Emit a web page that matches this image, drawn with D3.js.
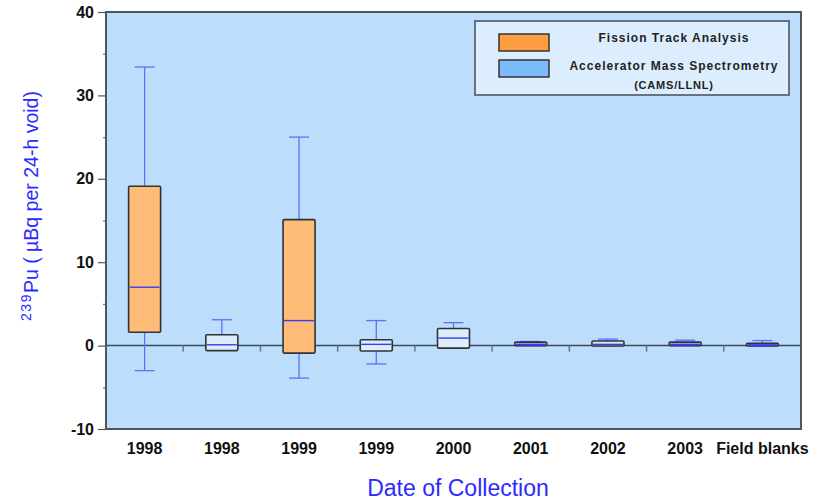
<!DOCTYPE html>
<html>
<head>
<meta charset="utf-8">
<script src="https://cdn.jsdelivr.net/npm/d3@7"></script>
<style>
  html, body { margin: 0; padding: 0; background: #ffffff; }
  svg { display: block; font-family: "Liberation Sans", Arial, sans-serif; }
</style>
</head>
<body>
<svg id="chart" width="819" height="502"></svg>
<script>
// Collection groups along the x axis
const categories = ["1998", "1998", "1999", "1999", "2000", "2001", "2002", "2003", "Field blanks"];
// Measurement method per group: FTA = fission track analysis, AMS = accelerator mass spectrometry
const methods = ["FTA", "AMS", "FTA", "AMS", "AMS", "AMS", "AMS", "AMS", "AMS"];
// Box-plot statistics, 239Pu in µBq per 24-h void (null = no whisker drawn)
const whiskerLow  = [-3.0, null, -3.9, -2.2, null, null, null, null, null];
const q1          = [1.6, -0.6, -0.9, -0.65, -0.3, 0.0, -0.05, 0.0, -0.05];
const median      = [7.0, 0.1, 3.0, 0.15, 0.9, 0.12, 0.15, 0.12, 0.05];
const q3          = [19.1, 1.3, 15.1, 0.7, 2.05, 0.42, 0.55, 0.42, 0.27];
const whiskerHigh = [33.4, 3.1, 25.0, 3.0, 2.75, 0.5, 0.78, 0.65, 0.6];
// Axis ticks
const yMajorTicks = [-10, 0, 10, 20, 30, 40];
const yMinorTicks = [-5, 5, 15, 25, 35];
// Legend entries
const legendLabels = [["Fission Track Analysis"], ["Accelerator Mass Spectrometry", "(CAMS/LLNL)"]];

const svg = d3.select("#chart");
const plot = { left: 106, right: 801, top: 12, bottom: 429 };

const x = d3.scaleBand()
  .domain(d3.range(categories.length))
  .range([plot.left, plot.right])
  .padding(0);
const y = d3.scaleLinear().domain([-10, 40]).range([plot.bottom, plot.top]);

const boxFill = { FTA: "#ffbb78", AMS: "#dcedfd" };
const swatchFill = { FTA: "#ff9d42", AMS: "#7dbcfb" };
const whiskerColor = "#5f6ff7";
const medianColor = "#3a3cf4";

// plot background
svg.append("rect")
  .attr("x", plot.left).attr("y", plot.top)
  .attr("width", plot.right - plot.left).attr("height", plot.bottom - plot.top)
  .attr("fill", "#bcdefc");

// y axis: major ticks with labels (plain hyphen for negatives)
const yAxis = svg.append("g")
  .attr("transform", `translate(${plot.left},0)`)
  .call(d3.axisLeft(y).tickValues(yMajorTicks).tickSize(8).tickPadding(4)
    .tickFormat(d => String(d)));
yAxis.select(".domain").remove();
yAxis.selectAll("line").attr("stroke", "#555").attr("stroke-width", 1.2);
yAxis.selectAll("text")
  .attr("font-size", 16).attr("font-weight", "bold").attr("fill", "#111")
  .attr("font-family", "Liberation Sans, Arial, sans-serif");

// y axis: minor ticks
const yMinor = svg.append("g")
  .attr("transform", `translate(${plot.left},0)`)
  .call(d3.axisLeft(y).tickValues(yMinorTicks).tickSize(3).tickFormat(""));
yMinor.select(".domain").remove();
yMinor.selectAll("line").attr("stroke", "#777").attr("stroke-width", 1.2);

// zero line with small ticks between groups
svg.append("line")
  .attr("x1", plot.left).attr("x2", plot.right)
  .attr("y1", y(0)).attr("y2", y(0))
  .attr("stroke", "#3f4a55").attr("stroke-width", 1.5);
svg.append("g").selectAll("line")
  .data(d3.range(1, categories.length))
  .join("line")
  .attr("x1", i => x(i)).attr("x2", i => x(i))
  .attr("y1", y(0)).attr("y2", y(0) + 6)
  .attr("stroke", "#6a7580").attr("stroke-width", 1.5);

// box plots
const boxW = 32, capW = 20;
const groups = svg.append("g").selectAll("g")
  .data(d3.range(categories.length))
  .join("g")
  .attr("transform", i => `translate(${x(i) + x.bandwidth() / 2},0)`);

groups.filter(i => whiskerHigh[i] !== null).each(function (i) {
  const g = d3.select(this);
  g.append("line").attr("x1", 0).attr("x2", 0)
    .attr("y1", y(q3[i])).attr("y2", y(whiskerHigh[i]))
    .attr("stroke", whiskerColor).attr("stroke-width", 1.3);
  g.append("line").attr("x1", -capW / 2).attr("x2", capW / 2)
    .attr("y1", y(whiskerHigh[i])).attr("y2", y(whiskerHigh[i]))
    .attr("stroke", whiskerColor).attr("stroke-width", 1.3);
});
groups.filter(i => whiskerLow[i] !== null).each(function (i) {
  const g = d3.select(this);
  g.append("line").attr("x1", 0).attr("x2", 0)
    .attr("y1", y(q1[i])).attr("y2", y(whiskerLow[i]))
    .attr("stroke", whiskerColor).attr("stroke-width", 1.3);
  g.append("line").attr("x1", -capW / 2).attr("x2", capW / 2)
    .attr("y1", y(whiskerLow[i])).attr("y2", y(whiskerLow[i]))
    .attr("stroke", whiskerColor).attr("stroke-width", 1.3);
});
groups.append("rect")
  .attr("x", -boxW / 2).attr("width", boxW)
  .attr("y", i => y(q3[i]))
  .attr("height", i => Math.max(y(q1[i]) - y(q3[i]), 2))
  .attr("fill", i => boxFill[methods[i]])
  .attr("stroke", "#333").attr("stroke-width", 1.6)
  .attr("rx", 1);
groups.append("line")
  .attr("x1", -boxW / 2 + 1).attr("x2", boxW / 2 - 1)
  .attr("y1", i => y(median[i])).attr("y2", i => y(median[i]))
  .attr("stroke", medianColor).attr("stroke-width", i => (q3[i] - q1[i] < 0.6 ? 2.2 : 1.4));

// plot frame
svg.append("rect")
  .attr("x", plot.left).attr("y", plot.top)
  .attr("width", plot.right - plot.left).attr("height", plot.bottom - plot.top)
  .attr("fill", "none").attr("stroke", "#4d5760").attr("stroke-width", 2);

// x category labels
svg.append("g").selectAll("text")
  .data(d3.range(categories.length))
  .join("text")
  .attr("x", i => x(i) + x.bandwidth() / 2)
  .attr("y", 454)
  .attr("text-anchor", "middle")
  .attr("font-size", 16).attr("font-weight", "bold").attr("fill", "#111")
  .text(i => categories[i]);

// axis titles
svg.append("text")
  .attr("x", 458).attr("y", 496)
  .attr("text-anchor", "middle")
  .attr("font-size", 23).attr("fill", "#2b2bff")
  .text("Date of Collection");

const yTitle = svg.append("text")
  .attr("transform", "translate(38,206) rotate(-90)")
  .attr("text-anchor", "middle")
  .attr("font-size", 19.5).attr("fill", "#2b2bff");
yTitle.append("tspan").attr("font-size", 14).attr("dy", -7).attr("letter-spacing", 1.5).text("239");
yTitle.append("tspan").attr("dy", 7).text("Pu ( µBq per 24-h void)");

// legend
const legend = svg.append("g");
legend.append("rect")
  .attr("x", 475).attr("y", 21).attr("width", 314).attr("height", 74)
  .attr("fill", "#dcedfd").attr("stroke", "#4d5760").attr("stroke-width", 1.6);
const legendKeys = ["FTA", "AMS"];
const swatchY = [34, 60];
legend.selectAll("rect.swatch")
  .data(legendKeys)
  .join("rect")
  .attr("class", "swatch")
  .attr("x", 499).attr("y", (d, i) => swatchY[i])
  .attr("width", 50).attr("height", 17)
  .attr("fill", d => swatchFill[d])
  .attr("stroke", "#333").attr("stroke-width", 1.5);
const textY = [[42], [70, 89]];
legendLabels.forEach((lines, i) => {
  lines.forEach((t, j) => {
    legend.append("text")
      .attr("x", 674).attr("y", textY[i][j])
      .attr("text-anchor", "middle")
      .attr("font-size", j === 0 ? 12 : 11).attr("font-weight", "bold")
      .attr("letter-spacing", j === 0 ? 1 : 0.8)
      .attr("fill", "#222")
      .text(t);
  });
});
</script>
</body>
</html>
